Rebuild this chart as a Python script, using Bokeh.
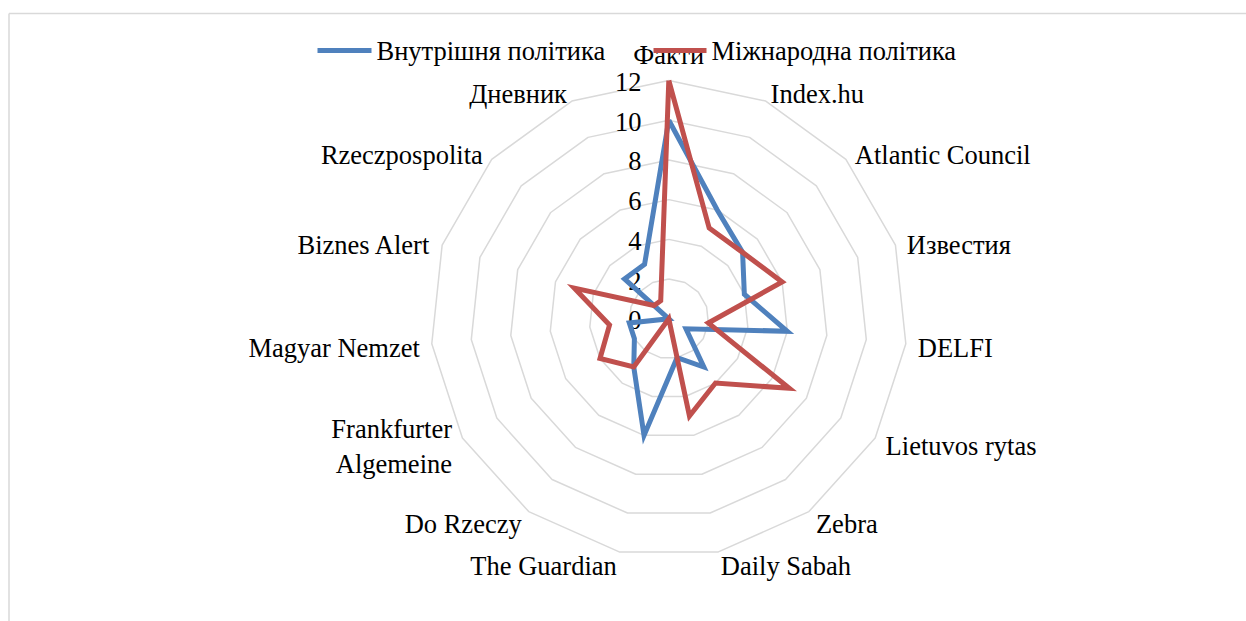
import numpy as np
from bokeh.plotting import figure
from bokeh.models import Range1d
from bokeh.core.properties import value
from bokeh.embed import file_html
from bokeh.resources import INLINE

# ---------------- data ----------------
categories = ["Факти", "Index.hu", "Atlantic Council", "Известия", "DELFI",
              "Lietuvos rytas", "Zebra", "Daily Sabah", "The Guardian", "Do Rzeczy",
              "Frankfurter\nAlgemeine", "Magyar Nemzet", "Biznes Alert",
              "Rzeczpospolita", "Дневник"]
domestic = [10, 6, 5, 4, 6, 1, 3, 2, 6, 3, 2, 2, 0, 3, 3]
international = [12, 5, 5, 6, 2, 7, 4, 5, 0, 3, 4, 3, 5, 1, 1]
ticks = [0, 2, 4, 6, 8, 10, 12]
series_names = ["Внутрішня політика", "Міжнародна політика"]
series_colors = ["#4f81bd", "#c0504d"]

# ---------------- layout ----------------
W, H = 1246, 621
CX, CY = 668.3, 318.3          # centre of the radar in canvas px
K = 19.86                      # px per value unit
RMAX = max(ticks)
FONT = value("Liberation Serif")
FS = "26.5px"
LW = 5

p = figure(width=W, height=H, output_backend="svg", toolbar_location=None,
           x_range=Range1d(-CX / K, (W - CX) / K),
           y_range=Range1d(-(H - CY) / K, CY / K),
           min_border=0)
p.xaxis.visible = False
p.yaxis.visible = False
p.grid.visible = False
p.outline_line_color = None
p.background_fill_color = "white"

def px2x(px):
    return (px - CX) / K

def py2y(py):
    return (CY - py) / K

# chart-area border (top and left edges visible)
p.line([px2x(8.5), px2x(8.5)], [py2y(13), py2y(H)], line_color="#d9d9d9", line_width=1.5)
p.line([px2x(8.5), px2x(W)], [py2y(13), py2y(13)], line_color="#d9d9d9", line_width=1.5)

n = len(categories)
theta = 2 * np.pi * np.arange(n) / n
s, c = np.sin(theta), np.cos(theta)

# grid rings
ring_xs, ring_ys = [], []
for t in ticks[1:]:
    ring_xs.append(list(np.append(t * s, t * s[0])))
    ring_ys.append(list(np.append(t * c, t * c[0])))
p.multi_line(ring_xs, ring_ys, line_color="#d9d9d9", line_width=1.5)

# value tick labels
p.text(x=[px2x(CX - 27.3)] * len(ticks), y=[t - 1.5 / K for t in ticks],
       text=[str(t) for t in ticks], text_font=FONT, text_font_size=FS,
       text_align="right", text_baseline="middle", text_color="black")

# category labels
lx = RMAX * s + 12 * s / K
ly = RMAX * c + (11 * c - 3) / K
groups = {"left": [], "right": [], "center": []}
for i in range(n):
    if abs(s[i]) < 0.05:
        groups["center"].append(i)
    elif s[i] > 0:
        groups["left"].append(i)
    else:
        groups["right"].append(i)
for align, idx in groups.items():
    if not idx:
        continue
    if align == "center":
        xs = [RMAX * s[i] for i in idx]
        ys = [RMAX * c[i] + 10 / K for i in idx]
        baseline = "bottom"
    else:
        xs = [lx[i] for i in idx]
        ys = [ly[i] for i in idx]
        baseline = "middle"
    p.text(x=xs, y=ys, text=[categories[i] for i in idx], text_font=FONT,
           text_font_size=FS, text_align=align, text_baseline=baseline,
           text_color="black", text_line_height=1.15)

# series
for vals, col in zip([domestic, international], series_colors):
    v = np.array(vals, dtype=float)
    xs = list(np.append(v * s, v[0] * s[0]))
    ys = list(np.append(v * c, v[0] * c[0]))
    p.line(xs, ys, line_color=col, line_width=LW, line_join="miter")

# legend (drawn as glyphs so the serif font is honoured)
legend_line_px = [(317, 371), (653, 706)]
legend_y = py2y(50)
for (x0, x1), nm, col in zip(legend_line_px, series_names, series_colors):
    p.line([px2x(x0), px2x(x1)], [legend_y, legend_y], line_color=col, line_width=LW)
    p.text(x=[px2x(x1 + 5)], y=[legend_y], text=[nm], text_font=FONT,
           text_font_size=FS, text_align="left", text_baseline="middle",
           text_color="black")

open("out.html", "w").write(file_html(p, INLINE))
